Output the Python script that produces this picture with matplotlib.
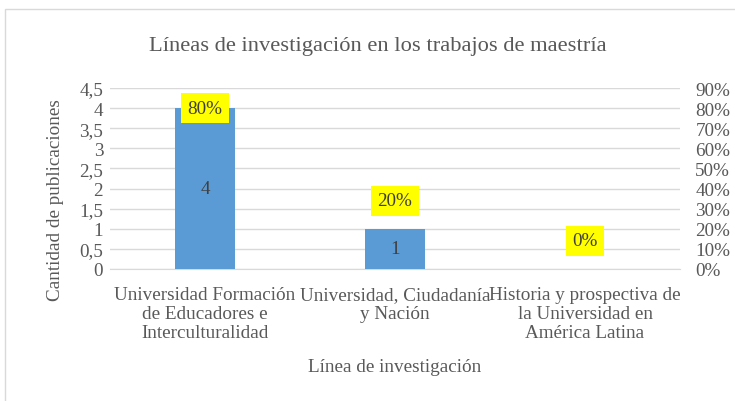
import numpy as np
import matplotlib
matplotlib.use('Agg')
import matplotlib.pyplot as plt
from matplotlib.patches import Rectangle

categorias = ["Universidad Formación\nde Educadores e\nInterculturalidad",
              "Universidad, Ciudadanía\ny Nación",
              "Historia y prospectiva de\nla Universidad en\nAmérica Latina"]
publicaciones = [4, 1, 0]
porcentajes = [0.80, 0.20, 0.0]
etiquetas_pct = ["80%", "20%", "0%"]
ticks_izq = ["0", "0,5", "1", "1,5", "2", "2,5", "3", "3,5", "4", "4,5"]
ticks_der = ["0%", "10%", "20%", "30%", "40%", "50%", "60%", "70%", "80%", "90%"]

plt.rcParams['font.family'] = ['Liberation Serif', 'DejaVu Serif']
gris = "#595959"
fs = 13.8

fig = plt.figure(figsize=(7.35, 4.02), dpi=100)
fig.patches.append(Rectangle((5 / 735, -0.02), 1.0, 1 - 10 / 402 + 0.02, transform=fig.transFigure,
                             fill=False, edgecolor="#d9d9d9", lw=1))
ax = fig.add_axes([0.1497, 0.3284, 0.7755, 0.4502])
x = np.arange(len(categorias))
ax.bar(x, publicaciones, width=0.316, color="#5b9bd5", zorder=3)
for xi, v in zip(x, publicaciones):
    if v > 0:
        ax.text(xi, v / 2, str(v), ha="center", va="center", fontsize=fs, color="#404040", zorder=4)

ax.set_xlim(-0.5, 2.5)
ax.set_ylim(0, 4.5)
ax.set_yticks(np.arange(0, 4.51, 0.5))
ax.set_yticklabels(ticks_izq)
ax.grid(axis="y", color="#d9d9d9", lw=1, zorder=0)
for s in ["top", "right", "left"]:
    ax.spines[s].set_visible(False)
ax.spines["bottom"].set_color("#d9d9d9")
ax.tick_params(axis="both", length=0, labelsize=fs, colors=gris)
ax.tick_params(axis="y", pad=5)
ax.set_xticks(x)
ax.set_xticklabels(categorias, fontsize=fs, linespacing=1.18)
ax.tick_params(axis="x", pad=12)
ax.set_ylabel("Cantidad de publicaciones", fontsize=fs, color=gris)
ax.yaxis.set_label_coords(-0.081, 0.387)
ax.set_xlabel("Línea de investigación", fontsize=fs, color=gris, labelpad=12)

ax2 = ax.twinx()
ax2.set_ylim(0, 0.9)
ax2.set_yticks(np.arange(0, 0.91, 0.1))
ax2.set_yticklabels(ticks_der)
for s in ["top", "right", "left", "bottom"]:
    ax2.spines[s].set_visible(False)
ax2.tick_params(axis="y", length=0, labelsize=fs, colors=gris, pad=11)
ax2.plot(x, porcentajes, alpha=0)
offsets = [0, 28, 28]
for xi, p, t, off in zip(x, porcentajes, etiquetas_pct, offsets):
    ax2.annotate(t, (xi, p), xytext=(0, off), textcoords="offset pixels",
                 ha="center", va="center", fontsize=fs, color="#404040", zorder=5,
                 bbox=dict(boxstyle="square,pad=0.35", fc="yellow", ec="none"))

fig.text(0.514, 0.885, "Líneas de investigación en los trabajos de maestría",
         ha="center", va="center", fontsize=16.2, color=gris)

fig.savefig("out.png", dpi=100)
